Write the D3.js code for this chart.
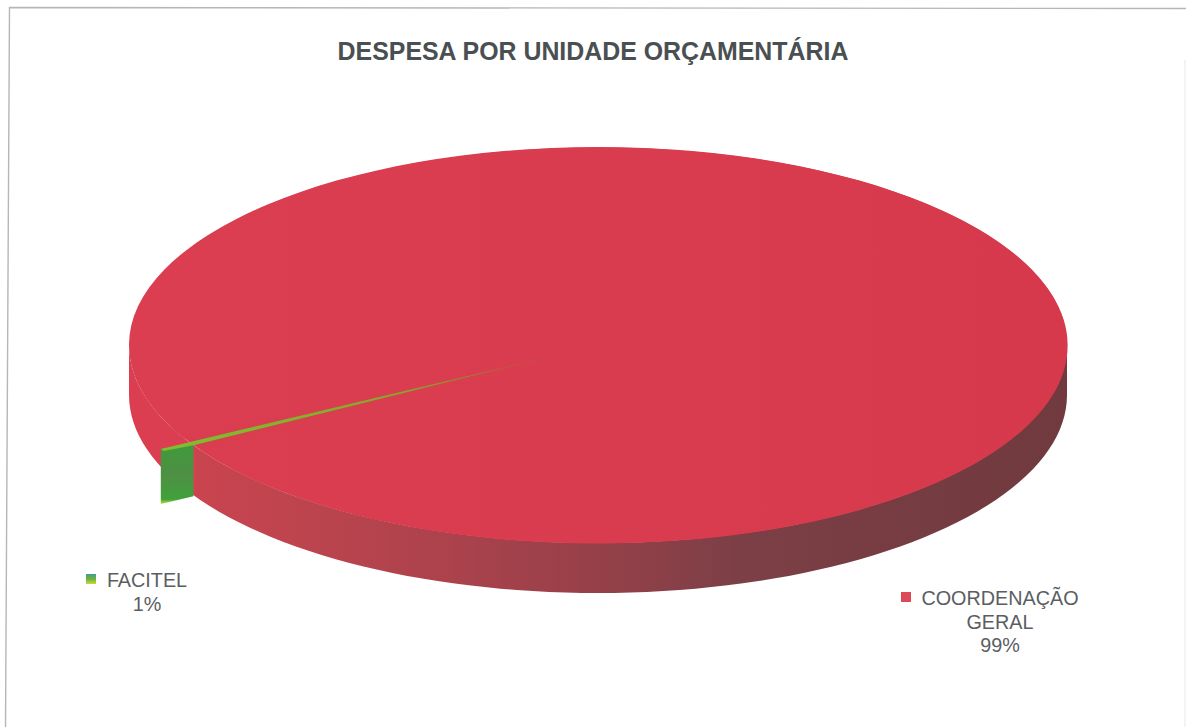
<!DOCTYPE html>
<html><head><meta charset="utf-8">
<script src="https://cdnjs.cloudflare.com/ajax/libs/d3/7.8.5/d3.min.js"></script>
<style>html,body{margin:0;padding:0;background:#fff}svg{display:block}text{font-family:"Liberation Sans",Arial,sans-serif}</style>
</head><body><svg id="c" width="1186" height="727"></svg>
<script>
const chartTitle = "DESPESA POR UNIDADE ORÇAMENTÁRIA";
const categories = ["COORDENAÇÃO GERAL", "FACITEL"];
const shares = [99, 1];
const labelLines = [["COORDENAÇÃO", "GERAL", "99%"], ["FACITEL", "1%"]];

const W = 1186, H = 727;
const cx = 598, cy = 345, rx = 469, ry = 198, depth = 50;
const svg = d3.select("#c");
const defs = svg.append("defs");

function grad(id, stops, x1=0, y1=0, x2=1, y2=0) {
  const g = defs.append("linearGradient").attr("id", id)
    .attr("x1", x1).attr("y1", y1).attr("x2", x2).attr("y2", y2);
  stops.forEach(([o, c]) => g.append("stop").attr("offset", o).attr("stop-color", c));
}
grad("wall", [[0,"#da3e50"],[0.07,"#da3e50"],[0.072,"#c9444f"],[0.2,"#bb444e"],[0.35,"#aa424c"],[0.5,"#964049"],[0.65,"#7c3f46"],[0.85,"#753c41"],[1,"#703a3e"]]);
grad("face", [[0,"#da3e50"],[0.55,"#d93c4e"],[1,"#d5394b"]]);
grad("greenFace", [[0,"#3f9a3c"],[0.5,"#4f8f45"],[0.92,"#3fa13a"],[1,"#c9e23c"]], 0,0,0,1);
grad("greenKey", [[0,"#3f9f8f"],[0.5,"#6fb13c"],[1,"#c6dc3e"]], 0,0,0,1);
grad("sliver", [[0,"#7fbf2f"],[0.6,"#8aa52e"],[1,"#b4493f"]]);

// frame: the page is scanned slightly askew
svg.append("path").attr("d", d3.line()([[5.5,H],[9.5,7.5],[W,8.5]]))
  .attr("fill","none").attr("stroke","#b4b6b8").attr("stroke-width",1.4);
svg.append("path").attr("d", d3.line()([[1185,60],[1185,H]]))
  .attr("fill","none").attr("stroke","#ececec").attr("stroke-width",1.2);

// title
svg.append("text").attr("x",593).attr("y",60).attr("text-anchor","middle")
  .attr("font-size",24.9).attr("font-weight","bold").attr("fill","#4a4f52").text(chartTitle);

// pie in unit-circle space, projected to an ellipse (d3 angle 0 = up; screen t = d3 angle - 90)
const sliceCentre = 240 * Math.PI/180;
const smallSpan = 2*Math.PI*shares[1]/d3.sum(shares);
const pie = d3.pie().sort(null)
  .startAngle(sliceCentre + smallSpan/2 - 2*Math.PI)
  .endAngle(sliceCentre + smallSpan/2);
const arcs = pie(shares);
const unitArc = d3.arc().innerRadius(0).outerRadius(1);
const rad = Math.PI/180;
const proj = (tDeg, r=1, dz=0) => [cx + rx*r*Math.cos(tDeg*rad), cy + ry*r*Math.sin(tDeg*rad) + dz];

// side wall (front half of the ellipse, extruded)
const front = d3.range(0, 181, 2);
const wallPts = front.map(t => proj(t)).concat(front.slice().reverse().map(t => proj(t,1,depth)));
svg.append("path").attr("d", d3.line()(wallPts)+"Z").attr("fill","url(#wall)");

// top face
const face = svg.append("g").attr("transform",`translate(${cx},${cy}) scale(${rx},${ry})`);
face.append("circle").attr("r",1).attr("fill","#d93e4f");
face.append("path").attr("d", unitArc(arcs[0])).attr("fill","url(#face)");

// small slice: a sliver reaching out past the rim, with its cut face showing
const tMid = arcs[1].startAngle/rad - 90 + smallSpan/rad/2;
const tA = tMid - 0.4, tB = tMid + 0.6, rimOut = 1.07;
const outer = proj(tB, rimOut), inner = proj(tA, 1);
svg.append("path").attr("d", d3.line()([
    [outer[0], outer[1]+depth+5], [inner[0], inner[1]+depth+1], inner, outer
  ])+"Z").attr("fill","url(#greenFace)");
const apex = proj(tB, 0.08);
svg.append("path").attr("d", d3.line()([apex, outer, [outer[0]+3,outer[1]+2], inner])+"Z")
  .attr("fill","url(#sliver)");

// labels
const keys = [
  {lines:labelLines[0], x:1000, y:605, sx:901, sy:592, fill:"#dc4a5a"},
  {lines:labelLines[1], x:147,  y:587, sx:86,  sy:574, fill:"url(#greenKey)"}
];
keys.forEach(k => {
  svg.append("rect").attr("x",k.sx).attr("y",k.sy).attr("width",10).attr("height",10).attr("fill",k.fill);
  k.lines.forEach((s,i) => svg.append("text").attr("x",k.x).attr("y",k.y+i*23.5)
    .attr("text-anchor","middle").attr("font-size",19.8).attr("fill","#5a5e62").text(s));
});
</script></body></html>
